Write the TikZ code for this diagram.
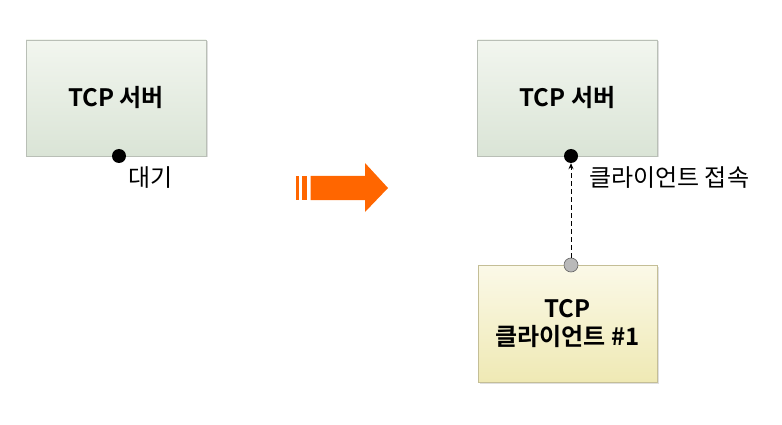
\documentclass[tikz,border=0pt]{standalone}
\usepackage{fontspec}
\setmainfont{Noto Sans CJK KR}[BoldFont={Noto Sans CJK KR Bold}]
\usetikzlibrary{shadows,arrows.meta}
\definecolor{srvtop}{HTML}{F2F6EF}
\definecolor{srvbot}{HTML}{DAE4D6}
\definecolor{srvedge}{HTML}{B9BFB6}
\definecolor{clitop}{HTML}{FBF9E8}
\definecolor{clibot}{HTML}{EFE9B4}
\definecolor{cliedge}{HTML}{C4BE96}
\definecolor{arroworange}{HTML}{FF6600}
\tikzset{
  server/.style={draw=srvedge, line width=0.8pt, top color=srvtop, bottom color=srvbot,
    minimum width=180pt, minimum height=116pt, inner sep=0pt,
    drop shadow={shadow xshift=1.5pt, shadow yshift=-1.5pt, opacity=0.25},
    font=\bfseries\fontsize{24}{28}\selectfont, align=center},
  client/.style={draw=cliedge, line width=0.8pt, top color=clitop, bottom color=clibot,
    minimum width=179pt, minimum height=117pt, inner sep=0pt,
    drop shadow={shadow xshift=1.5pt, shadow yshift=-1.5pt, opacity=0.25},
    font=\bfseries\fontsize{24}{28}\selectfont, align=center},
  port/.style={circle, fill=black, minimum size=14pt, inner sep=0pt},
  gport/.style={circle, fill=gray!55, draw=gray!80!black, line width=0.6pt, minimum size=14pt, inner sep=0pt},
  lbl/.style={font=\fontsize{24}{26}\selectfont, anchor=west, inner sep=0pt},
}
\begin{document}
\begin{tikzpicture}[x=1pt,y=-1pt]
\useasboundingbox (0,0) rectangle (782,425);
% left server
\node[server] (s1) at (116,98) {TCP 서버};
\node[port] (p1) at (119,156) {};
\node[lbl] (w1) at (128,178) {대기};
% arrow
\fill[arroworange] (296,176) rectangle (298.5,200);
\fill[arroworange] (302,176) rectangle (306.5,200);
\fill[arroworange] (310.5,176) -- (365,176) -- (365,163) -- (388,188) -- (365,212) -- (365,200) -- (310.5,200) -- cycle;
% right server
\node[server] (s2) at (567.5,98) {TCP 서버};
\node[client] (c1) at (567.5,323.5) {TCP\\클라이언트 \#1};
\node[port] (p2) at (571,156) {};
\node[gport] (p3) at (571,265) {};
\draw[dash pattern=on 5pt off 3pt, line width=0.8pt, -{Stealth[length=6pt,width=5pt]}] (p3) -- (p2);
\node[lbl] (w2) at (589,178) {클라이언트 접속};
\end{tikzpicture}
\end{document}
